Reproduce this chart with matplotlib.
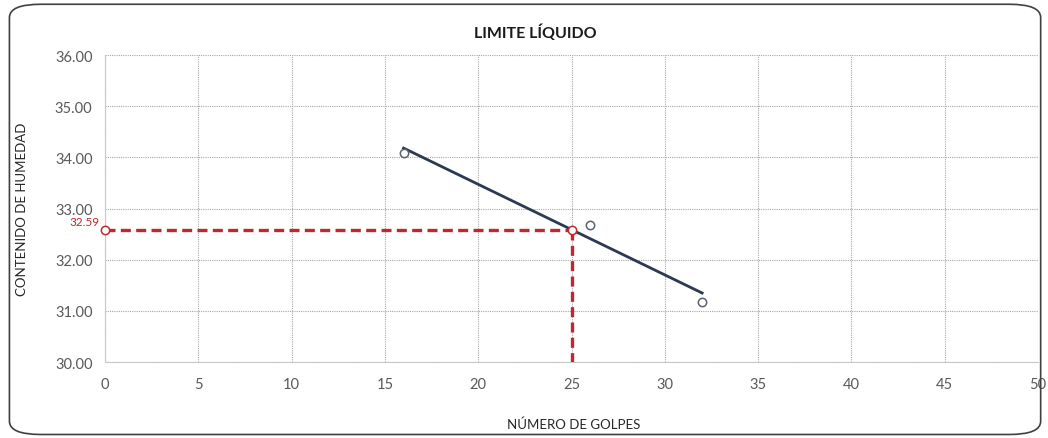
import matplotlib
matplotlib.use("Agg")
import matplotlib.pyplot as plt
from matplotlib.patches import FancyBboxPatch
import numpy as np

# datos del ensayo
golpes = [16, 26, 32]
humedad = [34.08, 32.68, 31.18]
n_golpes_ll = 25
x_ticks = [0, 5, 10, 15, 20, 25, 30, 35, 40, 45, 50]
y_ticks = [30.0, 31.0, 32.0, 33.0, 34.0, 35.0, 36.0]

plt.rcParams['font.family'] = ['Lato', 'DejaVu Sans']

fig = plt.figure(figsize=(10.48, 4.39), dpi=100)
ax = fig.add_axes([0.1002, 0.1731, 0.8903, 0.6993])

# linea de tendencia
m, b = np.polyfit(golpes, humedad, 1)
xt = np.array([min(golpes), max(golpes)])
ax.plot(xt, m * xt + b, color='#2b3a52', linewidth=2, zorder=3)

ax.plot(golpes, humedad, 'o', markersize=6, markerfacecolor='white',
        markeredgecolor='#5a6270', markeredgewidth=1.1, zorder=4)

# limite liquido a 25 golpes
ll = m * n_golpes_ll + b
rojo = '#c0282d'
ax.plot([0, n_golpes_ll], [ll, ll], color=rojo, linestyle=(0, (3, 1.6)),
        linewidth=2.4, zorder=5)
ax.plot([n_golpes_ll, n_golpes_ll], [ll, 30], color=rojo, linestyle=(0, (3, 1.6)),
        linewidth=2.4, zorder=5)
ax.plot([0, n_golpes_ll], [ll, ll], 'o', markersize=6, markerfacecolor='white',
        markeredgecolor=rojo, markeredgewidth=1.1, zorder=6, clip_on=False)
ax.annotate(f"{ll:.2f}", xy=(0, ll), xytext=(-4, 2), textcoords='offset points',
            ha='right', va='bottom', color=rojo, fontsize=8.5)

ax.set_xlim(0, 50)
ax.set_ylim(30, 36)
ax.set_xticks(x_ticks)
ax.set_yticks(y_ticks)
ax.set_yticklabels([f"{v:.2f}" for v in y_ticks])
ax.tick_params(length=0, labelsize=10.5, colors='#595959')
ax.tick_params(axis='y', pad=9)
ax.tick_params(axis='x', pad=11)
ax.grid(True, color='#a6a6a6', linestyle=(0, (1, 1)), linewidth=0.8)
for s in ['top', 'right']:
    ax.spines[s].set_visible(False)
for s in ['left', 'bottom']:
    ax.spines[s].set_color('#c8c8c8')

ax.set_xlabel("NÚMERO DE GOLPES", fontsize=9.5, color='#262626', va='center')
ax.set_ylabel("CONTENIDO DE HUMEDAD", fontsize=9.5, color='#262626', va='center')
ax.xaxis.set_label_coords(0.5018, -0.202)
ax.yaxis.set_label_coords(-0.089, 0.5)
fig.text(0.511, 0.925, "LIMITE LÍQUIDO", ha='center', va='center',
         fontsize=11.5, fontweight='bold', color='#1a1a1a')

borde = FancyBboxPatch((0.009, 0.008), 0.984, 0.98,
                       boxstyle="round,pad=0,rounding_size=0.03",
                       transform=fig.transFigure, fill=False,
                       edgecolor='#404040', linewidth=1.2)
fig.patches.append(borde)

fig.savefig("out.png", dpi=100)
